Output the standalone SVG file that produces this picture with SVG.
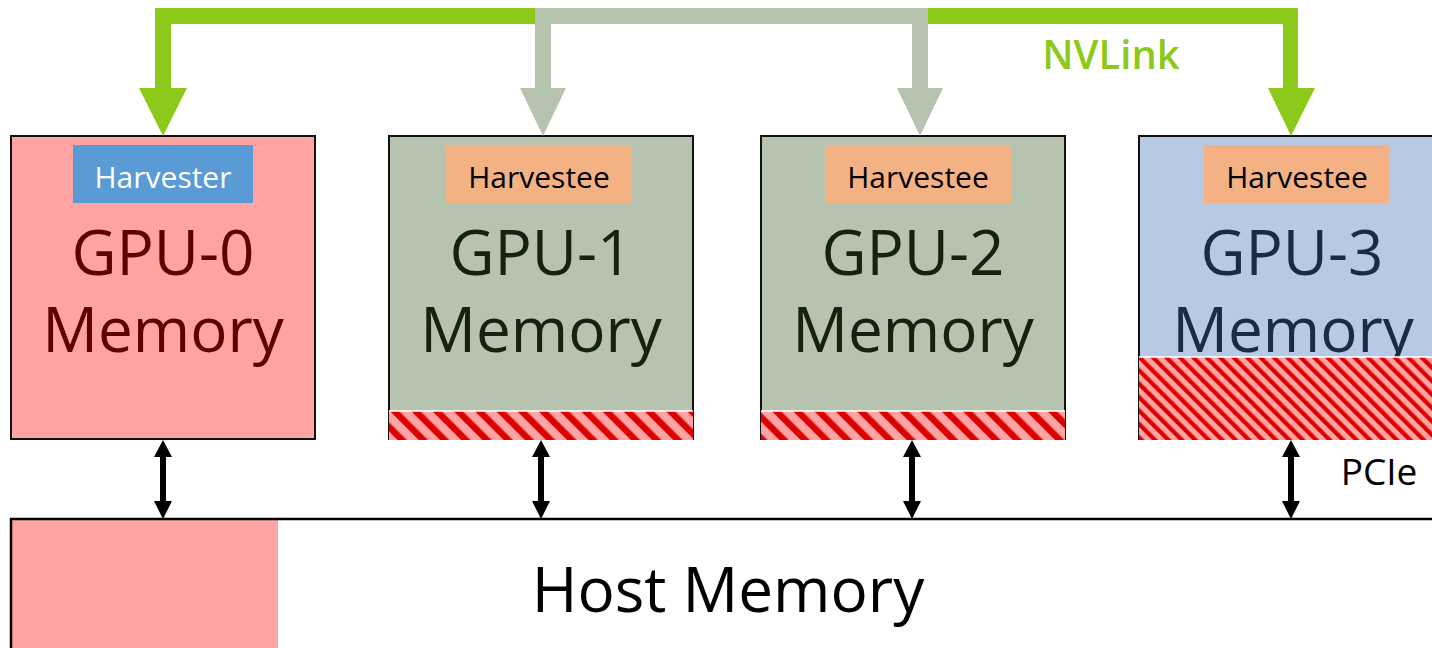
<svg xmlns="http://www.w3.org/2000/svg" width="1432" height="648" viewBox="0 0 1432 648">
  <style>
    .box { stroke: #111; stroke-width: 2; }
    .big { font-family: "Open Sans", "Liberation Sans", sans-serif; font-size: 62px; text-anchor: middle; }
    .lbl { font-family: "Open Sans", "Liberation Sans", sans-serif; font-size: 30px; text-anchor: middle; }
    .hatch { fill: url(#hatch); }
    .hatchfine { fill: url(#hatchFine); }
    .hatchtop { stroke: #ffffff; stroke-width: 1.5; }
  </style>
  <defs>
    <pattern id="hatch" width="15" height="15" patternUnits="userSpaceOnUse" patternTransform="rotate(-45)">
      <rect width="15" height="15" fill="#FFA3A3"/>
      <rect width="6.5" height="15" fill="#DD0000"/>
    </pattern>
    <pattern id="hatchFine" width="9.5" height="9.5" patternUnits="userSpaceOnUse" patternTransform="rotate(-45)">
      <rect width="9.5" height="9.5" fill="#FFA3A3"/>
      <rect width="4.2" height="9.5" fill="#DD0000"/>
    </pattern>
    <path id="pcieArrow" d="M0,440 L9,457 L3,457 L3,501 L9,501 L0,519 L-9,501 L-3,501 L-3,457 L-9,457 Z" fill="#000"/>
  </defs>

  <rect width="1432" height="648" fill="#ffffff"/>

  <g id="host">
    <rect x="11" y="519" width="267" height="140" fill="#FFA3A3"/>
    <rect x="11" y="519" width="1440" height="160" fill="none" stroke="#000" stroke-width="2.5"/>
    <text class="big" x="728" y="612" fill="#000">Host Memory</text>
  </g>

  <g id="gpu0">
    <rect class="box" x="11" y="136" width="304" height="303" fill="#FFA3A3" stroke="#2a0000"/>
    <rect x="73" y="145" width="180" height="58" fill="#5B9BD5"/>
    <text class="lbl" x="163" y="188" fill="#ffffff">Harvester</text>
    <text class="big" x="163" y="275" fill="#5E0000">GPU-0</text>
    <text class="big" x="163" y="352" fill="#5E0000">Memory</text>
  </g>

  <g id="gpu1">
    <rect class="box" x="389" y="136" width="304" height="303" fill="#B6C3AE"/>
    <rect x="446" y="145" width="186" height="58" fill="#F4B183"/>
    <text class="lbl" x="539" y="188" fill="#000">Harvestee</text>
    <text class="big" x="541" y="275" fill="#16210F">GPU-1</text>
    <text class="big" x="541" y="352" fill="#16210F">Memory</text>
    <rect class="hatch" x="389" y="411" width="304" height="29"/>
    <line class="hatchtop" x1="389" y1="411" x2="693" y2="411"/>
  </g>

  <g id="gpu2">
    <rect class="box" x="761" y="136" width="304" height="303" fill="#B6C3AE"/>
    <rect x="825" y="145" width="186" height="58" fill="#F4B183"/>
    <text class="lbl" x="918" y="188" fill="#000">Harvestee</text>
    <text class="big" x="913" y="275" fill="#16210F">GPU-2</text>
    <text class="big" x="913" y="352" fill="#16210F">Memory</text>
    <rect class="hatch" x="761" y="411" width="304" height="29"/>
    <line class="hatchtop" x1="761" y1="411" x2="1065" y2="411"/>
  </g>

  <g id="gpu3">
    <rect class="box" x="1139" y="136" width="320" height="303" fill="#B8C9E6"/>
    <rect x="1204" y="145" width="186" height="58" fill="#F4B183"/>
    <text class="lbl" x="1297" y="188" fill="#000">Harvestee</text>
    <text class="big" x="1292" y="275" fill="#1A2A48">GPU-3</text>
    <text class="big" x="1293" y="352" fill="#1A2A48">Memory</text>
    <rect class="hatchfine" x="1139" y="357" width="300" height="83"/>
    <line class="hatchtop" x1="1139" y1="357" x2="1432" y2="357"/>
  </g>

  <g id="connectors">
    <path id="nvlink-green" d="M155,88 L155,8 L1298,8 L1298,88 L1315,88 L1291,136 L1268,88 L1283,88 L1283,24 L171,24 L171,88 L187,88 L163,136 L139,88 Z" fill="#8CC91A"/>
    <path id="nvlink-gray" d="M535,88 L535,8 L928,8 L928,88 L943,88 L920,136 L897,88 L912,88 L912,24 L551,24 L551,88 L566,88 L543,136 L520,88 Z" fill="#B6C3AE"/>
    <text x="1111" y="69" font-family="'Open Sans', 'Liberation Sans', sans-serif" font-size="40" font-weight="600" fill="#8CC91A" text-anchor="middle">NVLink</text>
    <use href="#pcieArrow" x="163"/>
    <use href="#pcieArrow" x="541"/>
    <use href="#pcieArrow" x="912"/>
    <use href="#pcieArrow" x="1291"/>
    <text x="1379" y="485" font-family="'Open Sans', 'Liberation Sans', sans-serif" font-size="37" fill="#000" text-anchor="middle">PCIe</text>
  </g>
</svg>
